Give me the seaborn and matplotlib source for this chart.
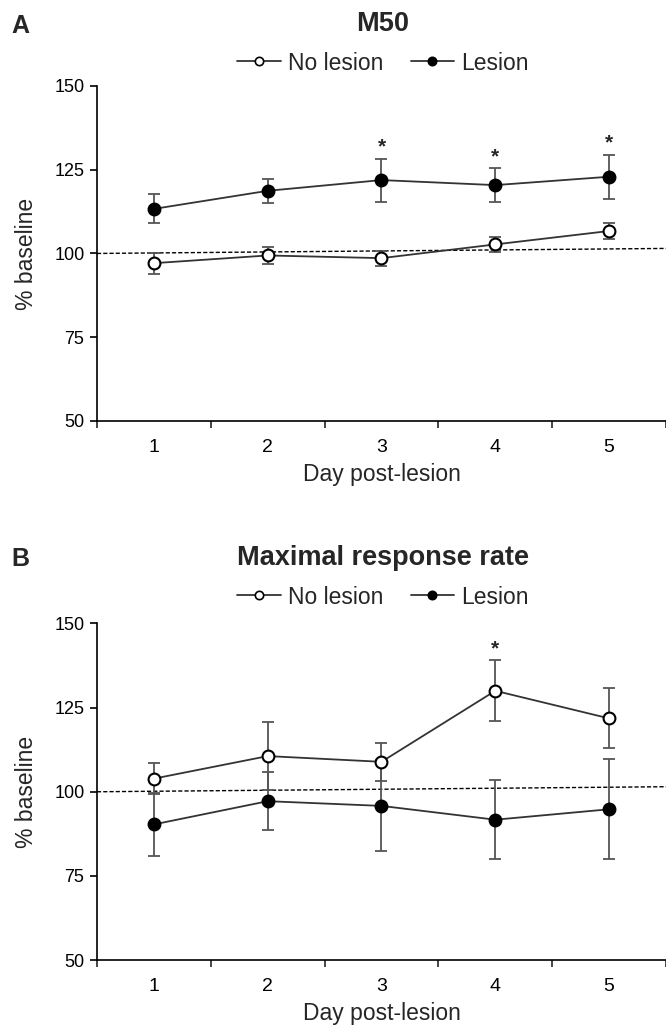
import numpy as np
import pandas as pd
import matplotlib
matplotlib.use("Agg")
import matplotlib.pyplot as plt
import seaborn as sns
from matplotlib.lines import Line2D
from matplotlib.ticker import FixedLocator

# ---- data (mean +/- SEM, % baseline) ----
days = [1, 2, 3, 4, 5]
groups = ["No lesion", "Lesion"]

m50_nolesion = [97.1, 99.4, 98.6, 102.7, 106.7]
m50_nolesion_sem = [3.1, 2.6, 2.2, 2.2, 2.3]
m50_lesion = [113.3, 118.7, 121.9, 120.4, 122.9]
m50_lesion_sem = [4.3, 3.5, 6.4, 5.0, 6.6]
m50_sig_days = [3, 4, 5]

rate_nolesion = [103.9, 110.6, 108.9, 130.0, 121.8]
rate_nolesion_sem = [4.6, 10.2, 5.7, 9.1, 8.9]
rate_lesion = [90.3, 97.2, 95.8, 91.7, 94.8]
rate_lesion_sem = [9.3, 8.7, 13.5, 11.8, 14.8]
rate_sig_days = [4]
rate_sig_group = "No lesion"

# baseline reference line (slightly sloped in the original)
baseline_x = [0.5, 5.5]
baseline_y = [100, 101.5]

yticks = [50, 75, 100, 125, 150]

sns.set_style("ticks")
plt.rcParams["font.family"] = ["Liberation Sans", "DejaVu Sans"]

fig = plt.figure(figsize=(6.66, 10.28), dpi=100)
axA = fig.add_axes([0.1456, 0.5905, 0.8544, 0.3259])
axB = fig.add_axes([0.1456, 0.0661, 0.8544, 0.3274])

styles = {
    "No lesion": dict(mfc="white"),
    "Lesion": dict(mfc="black"),
}


def draw_panel(ax, nolesion, nolesion_sem, lesion, lesion_sem, sig_days, sig_group):
    df = pd.DataFrame({
        "day": days * 2,
        "value": nolesion + lesion,
        "sem": nolesion_sem + lesion_sem,
        "group": [groups[0]] * 5 + [groups[1]] * 5,
    })
    ax.plot(baseline_x, baseline_y, color="black", lw=1.0, ls=(0, (3, 1.5)), zorder=1)
    for g in groups:
        sub = df[df.group == g]
        ax.errorbar(sub.day, sub.value, yerr=sub["sem"], fmt="none",
                    ecolor="#555555", elinewidth=1.3, capsize=4.5, capthick=1.3, zorder=2)
    sns.lineplot(data=df, x="day", y="value", hue="group", palette=["#333333", "#333333"],
                 legend=False, lw=1.3, ax=ax, zorder=3)
    for g in groups:
        sub = df[df.group == g]
        ax.plot(sub.day, sub.value, ls="none", marker="o", ms=8.5,
                mec="black", mew=1.5, zorder=4, **styles[g])
    sig = df[(df.group == sig_group) & (df.day.isin(sig_days))]
    for _, r in sig.iterrows():
        ax.text(r.day, r.value + r["sem"] + 0.6, "*", ha="center", va="bottom",
                fontsize=15, fontweight="bold")

    ax.set_xlim(0.5, 5.5)
    ax.set_ylim(50, 150)
    ax.set_yticks(yticks)
    ax.set_xticks(days)
    ax.xaxis.set_minor_locator(FixedLocator([0.5, 1.5, 2.5, 3.5, 4.5, 5.5]))
    ax.tick_params(axis="x", which="major", length=0, labelsize=14, pad=13)
    ax.tick_params(axis="x", which="minor", length=5, width=1.2, direction="out")
    ax.tick_params(axis="y", length=5, width=1.2, labelsize=13, pad=4)
    ax.set_xlabel("Day post-lesion", fontsize=16.5, labelpad=5)
    ax.set_ylabel("% baseline", fontsize=16.5, labelpad=12)
    for s in ["top", "right"]:
        ax.spines[s].set_visible(False)
    for s in ["left", "bottom"]:
        ax.spines[s].set_linewidth(1.2)
        ax.spines[s].set_color("black")
    ax.tick_params(colors="black")

    handles = [
        Line2D([], [], color="#333333", lw=1.3, marker="o", ms=6, mfc="white", mec="black", mew=1.2),
        Line2D([], [], color="#333333", lw=1.3, marker="o", ms=6, mfc="black", mec="black", mew=1.2),
    ]
    return handles


hA = draw_panel(axA, m50_nolesion, m50_nolesion_sem, m50_lesion, m50_lesion_sem,
                m50_sig_days, "Lesion")
hB = draw_panel(axB, rate_nolesion, rate_nolesion_sem, rate_lesion, rate_lesion_sem,
                rate_sig_days, rate_sig_group)

fig.legend(hA, groups, loc="center", bbox_to_anchor=(383 / 666, 1 - 63 / 1028), ncol=2,
           frameon=False, fontsize=16.5, handlelength=1.9, handletextpad=0.3, columnspacing=1.2)
fig.legend(hB, groups, loc="center", bbox_to_anchor=(383 / 666, 1 - 597 / 1028), ncol=2,
           frameon=False, fontsize=16.5, handlelength=1.9, handletextpad=0.3, columnspacing=1.2)

fig.text(383 / 666, 1 - 24 / 1028, "M50", ha="center", va="center", fontsize=19.5, fontweight="bold")
fig.text(383 / 666, 1 - 558 / 1028, "Maximal response rate", ha="center", va="center",
         fontsize=19.5, fontweight="bold")
fig.text(11 / 666, 1 - 26 / 1028, "A", ha="left", va="center", fontsize=18, fontweight="bold")
fig.text(11 / 666, 1 - 559 / 1028, "B", ha="left", va="center", fontsize=18, fontweight="bold")

fig.savefig("out.png", dpi=100)
